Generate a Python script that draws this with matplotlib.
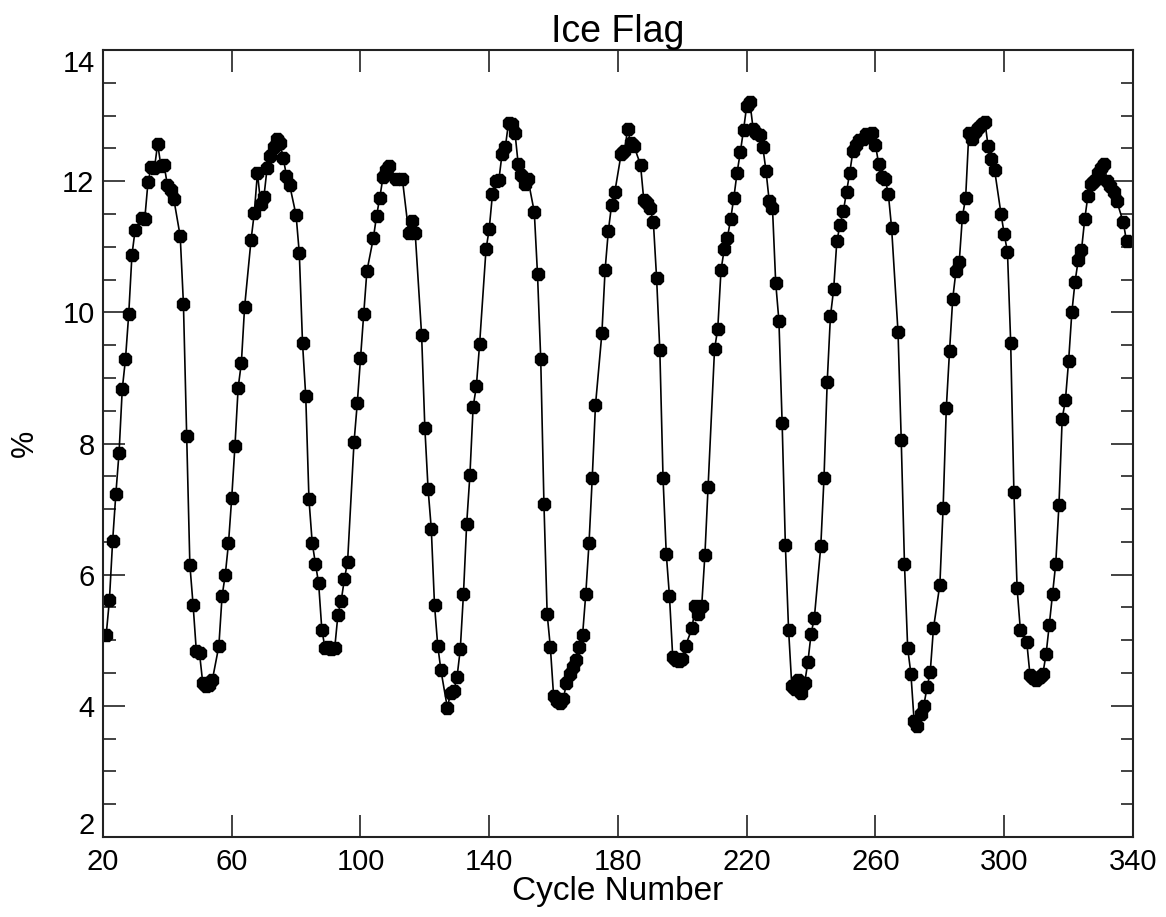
import matplotlib
matplotlib.use("Agg")
import matplotlib.pyplot as plt
from matplotlib.ticker import MultipleLocator
from matplotlib.transforms import ScaledTranslation

# cycle number and ice-flag percentage
CYCLE = [
    21, 22, 23, 24, 25, 26, 27, 28, 29, 30, 32, 33, 34, 35, 36, 37, 38, 39, 40, 41,
    42, 44, 45, 46, 47, 48, 49, 50, 51, 52, 53, 54, 56,
    57, 58, 59, 60, 61, 62, 63, 64, 66, 67, 68, 69, 70, 71, 72, 73, 74, 75, 76, 77,
    78, 80, 81, 82, 83, 84, 85, 86, 87, 88, 89, 90, 91, 92, 93, 94, 95, 96, 98,
    99, 100, 101, 102, 104, 105, 106, 107, 108, 109, 111, 113, 115, 116, 117, 119,
    120, 121, 122, 123, 124, 125, 127, 128, 129, 130, 131, 132, 133, 134, 135, 136, 137,
    139, 140, 141, 142, 143, 144, 145, 146, 147, 148, 149, 150, 151, 152, 154, 155,
    156, 157, 158, 159, 160, 161, 162, 163, 164, 165, 166, 167, 168, 169, 170, 171,
    172, 173, 175, 176, 177,
    178, 179, 181, 182, 183, 184, 185, 187, 188, 189, 190, 191, 192, 193, 194, 195,
    196, 197, 198, 199, 200, 201, 203, 204, 205, 206, 207, 208, 210, 211, 212, 213,
    214, 215, 216, 217, 218, 219,
    220, 221, 222, 223, 224, 225, 226, 227, 228, 229, 230, 231, 232, 233, 234, 235,
    236, 237, 238, 239, 240, 241, 243, 244, 245, 246, 247, 248, 249, 250, 251, 252,
    253, 254, 255, 256, 257,
    258, 259, 260, 261, 262, 263, 264, 265, 267, 268, 269, 270, 271, 272, 273, 274,
    275, 276, 277, 278, 280, 281, 282, 283, 284, 285, 286, 287, 288, 289, 290, 291,
    292, 293, 294, 295, 296, 297, 299,
    300, 301, 302, 303, 304, 305, 307, 308, 309, 310, 311, 312, 313, 314, 315, 316,
    317, 318, 319, 320, 321, 322, 323, 324, 325, 326, 327, 328, 329, 330, 331, 332,
    333, 334, 335, 337, 338,
]
ICE_PCT = [
    5.08, 5.61, 6.51, 7.23, 7.86, 8.83, 9.29, 9.97, 10.87, 11.26, 11.44, 11.43, 11.99,
    12.21, 12.20, 12.57, 12.23, 12.25, 11.94, 11.87, 11.73, 11.16, 10.13, 8.12, 6.15,
    5.54, 4.84, 4.80, 4.35, 4.30, 4.32, 4.40, 4.91,
    5.67, 6.00, 6.48, 7.17, 7.96, 8.85, 9.23, 10.08, 11.10, 11.51, 12.13, 11.65, 11.76,
    12.20, 12.39, 12.52, 12.65, 12.58, 12.36, 12.08, 11.94, 11.48, 10.90, 9.53, 8.72,
    7.15, 6.49, 6.17, 5.87, 5.16, 4.88, 4.90, 4.86, 4.88, 5.39, 5.60, 5.93, 6.20, 8.02,
    8.61, 9.30, 9.97, 10.63, 11.13, 11.47, 11.75, 12.06, 12.17, 12.23, 12.04, 12.04,
    11.21, 11.40, 11.21, 9.65, 8.24, 7.31, 6.70, 5.54, 4.92, 4.54, 3.97, 4.20, 4.22,
    4.44, 4.86, 5.71, 6.78, 7.52, 8.56, 8.87, 9.51,
    10.96, 11.27, 11.80, 12.00, 12.02, 12.42, 12.52, 12.89, 12.87, 12.74, 12.26, 12.10,
    11.96, 12.04, 11.53, 10.58, 9.29, 7.08, 5.40, 4.89, 4.15, 4.08, 4.05, 4.10, 4.35,
    4.48, 4.60, 4.70, 4.90, 5.08, 5.71, 6.48, 7.47, 8.58, 9.68, 10.65, 11.24,
    11.63, 11.83, 12.42, 12.46, 12.79, 12.58, 12.53, 12.25, 11.72, 11.67, 11.59, 11.37,
    10.52, 9.42, 7.47, 6.32, 5.67, 4.75, 4.70, 4.68, 4.72, 4.92, 5.18, 5.53, 5.40,
    5.52, 6.30, 7.34, 9.44, 9.75, 10.64, 10.96, 11.14, 11.42, 11.75, 12.13, 12.44, 12.78,
    13.15, 13.20, 12.79, 12.74, 12.70, 12.52, 12.15, 11.69, 11.59, 10.45, 9.87, 8.31,
    6.45, 5.16, 4.30, 4.25, 4.40, 4.20, 4.35, 4.67, 5.10, 5.34, 6.43, 7.47, 8.94, 9.94,
    10.35, 11.09, 11.33, 11.54, 11.83, 12.13, 12.46, 12.55, 12.62, 12.65, 12.72,
    12.71, 12.74, 12.55, 12.26, 12.06, 12.04, 11.80, 11.29, 9.70, 8.05, 6.17, 4.88,
    4.49, 3.77, 3.70, 3.88, 4.00, 4.28, 4.51, 5.18, 5.85, 7.01, 8.54, 9.41, 10.21,
    10.63, 10.76, 11.46, 11.74, 12.74, 12.65, 12.75, 12.81, 12.87, 12.90, 12.53, 12.34,
    12.17, 11.50,
    11.19, 10.92, 9.54, 7.26, 5.79, 5.16, 4.97, 4.47, 4.42, 4.40, 4.44, 4.49, 4.79,
    5.24, 5.71, 6.17, 7.07, 8.38, 8.66, 9.26, 10.00, 10.47, 10.80, 10.95, 11.42, 11.78,
    11.95, 12.00, 12.12, 12.20, 12.26, 12.00, 11.93, 11.83, 11.69, 11.37, 11.08,
]

X_TICKS = [20, 60, 100, 140, 180, 220, 260, 300, 340]
Y_TICKS = [2, 4, 6, 8, 10, 12, 14]

INK = "#000000"
AXIS = "#222222"

plt.rcParams["font.family"] = ["Liberation Sans", "DejaVu Sans"]

fig = plt.figure(figsize=(11.66, 9.17), dpi=100)
fig.set_facecolor("white")
ax = fig.add_axes([0.0883, 0.0872, 0.8834, 0.8583])

ax.plot(CYCLE, ICE_PCT, color=INK, linewidth=1.2, marker="8", markersize=10,
        markerfacecolor=INK, markeredgecolor=INK, clip_on=True)

ax.set_xlim(20, 340)
ax.set_ylim(2, 14)
ax.set_xticks(X_TICKS)
ax.set_yticks(Y_TICKS)
ax.yaxis.set_minor_locator(MultipleLocator(0.5))

for side in ("top", "right", "bottom", "left"):
    ax.spines[side].set_color(AXIS)
    ax.spines[side].set_linewidth(1.5)
ax.tick_params(which="both", direction="in", top=True, right=True,
               colors=AXIS, labelcolor=INK, width=1.2, labelsize=21)
ax.tick_params(axis="x", pad=8)
ax.tick_params(axis="y", pad=6)
ax.tick_params(which="major", length=16)
ax.tick_params(which="minor", length=9)

# the end labels of the y axis sit inside the axis range, as in the original
fig.canvas.draw()
ylabels = ax.get_yticklabels()
ylabels[0].set_transform(ylabels[0].get_transform()
                         + ScaledTranslation(0, 10 / 72, fig.dpi_scale_trans))
ylabels[-1].set_transform(ylabels[-1].get_transform()
                          + ScaledTranslation(0, -8 / 72, fig.dpi_scale_trans))

ax.set_title("Ice Flag", fontsize=27, color=INK, pad=5)
ax.set_xlabel("Cycle Number", fontsize=24, color=INK, labelpad=0)
ax.set_ylabel("%", fontsize=22, color=INK, labelpad=16)

fig.savefig("out.png", dpi=100, facecolor="white")
